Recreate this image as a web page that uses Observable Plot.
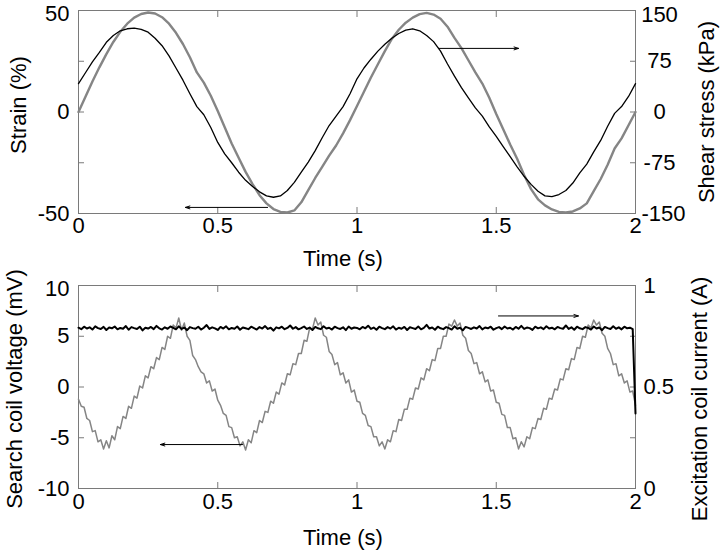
<!DOCTYPE html>
<html>
<head>
<meta charset="utf-8">
<script src="https://cdn.jsdelivr.net/npm/d3@7"></script>
<script src="https://cdn.jsdelivr.net/npm/@observablehq/plot@0.6"></script>
<style>
  body { margin: 0; background: #fff; }
  #chart svg { display: block; }
</style>
</head>
<body>
<div id="chart"></div>
<script>
// ---------- Top panel data (sampled every 0.025 s) ----------
const topTimeStep = 0.025;
const strain = [
  0, 7.5, 15, 22, 28.5, 34.5, 39.5, 43.5, 46.5, 48.3,
  49, 48.5, 46.7, 43.5, 39, 33.5, 27, 19.5, 14.5, 8,
  0.5, -7.5, -15.5, -22.5, -29.5, -35.5, -41, -45, -47.8, -49.2,
  -49.5, -48.5, -44.5, -38.5, -32.5, -27, -21.5, -16.5, -10.5, -4,
  3, 10, 17, 23.5, 30, 36, 40.5, 44, 46.5, 48.2,
  48.8, 48, 45.9, 42, 36.5, 31.5, 25.5, 19.5, 14, 7,
  -1, -8.5, -16, -23, -31, -38, -43, -46, -48, -49.2,
  -49.5, -49, -47.5, -45, -39, -33, -26, -18, -13, -6.5,
  0
];
const shearStress = [
  42, 58, 74, 88, 103, 113, 120, 123, 124, 122,
  118, 109, 98, 83, 65, 47, 27, 8, -4, -23,
  -45, -62, -75, -89, -101, -110, -118, -124, -126, -124,
  -116, -104, -89, -74, -57, -38, -20, -6, 8, 27,
  49, 65, 78, 90, 100, 109, 116, 121, 123, 120,
  113, 104, 90, 71, 53, 36, 21, 6, -6, -22,
  -36, -51, -66, -81, -95, -107, -117, -124, -125, -122,
  -116, -105, -90, -77, -59, -42, -21, -2, 8, 23,
  42
];

// ---------- Bottom panel data (sampled every 0.01 s) ----------
const bottomTimeStep = 0.01;
const searchCoilVoltage = [
  -1.2, -1.9, -2.0, -3.1, -3.3, -4.4, -4.3, -5.4, -5.2, -6.1,
  -5.3, -6.0, -4.8, -5.2, -3.9, -4.1, -2.9, -3.1, -1.9, -2.1,
  -0.9, -1.1, 0.1, -0.1, 1.1, 0.9, 2.0, 1.8, 2.9, 2.7,
  3.9, 3.7, 5.0, 4.8, 6.1, 5.8, 6.8, 5.6, 6.3, 5.0,
  4.6, 3.1, 2.7, 2.0, 1.5, 1.3, 0.4, 0.6, -0.4, -0.2,
  -1.3, -1.8, -2.6, -2.8, -3.9, -4.0, -5.0, -4.9, -5.8, -5.4,
  -6.2, -5.2, -5.5, -4.3, -4.5, -3.3, -3.5, -2.4, -2.5, -1.4,
  -1.6, -0.5, -0.7, 0.4, 0.2, 1.3, 1.2, 2.3, 2.2, 3.3,
  3.3, 4.6, 4.5, 5.8, 5.7, 6.8, 6.1, 6.4, 5.1, 4.9,
  3.5, 3.2, 2.2, 2.4, 1.2, 1.4, 0.4, 0.7, -0.5, -0.3,
  -1.4, -1.5, -2.6, -2.8, -3.8, -3.9, -4.9, -4.9, -5.8, -5.4,
  -6.1, -5.2, -5.4, -4.3, -4.4, -3.2, -3.3, -2.2, -2.2, -1.1,
  -1.2, -0.1, -0.2, 0.9, 0.7, 1.8, 1.6, 2.7, 2.6, 3.8,
  3.8, 5.0, 5.0, 6.2, 6.0, 6.6, 6.0, 6.3, 5.1, 4.8,
  3.6, 3.3, 2.3, 2.4, 1.3, 1.5, 0.5, 0.7, -0.4, -0.3,
  -1.5, -1.6, -2.7, -2.8, -4.0, -4.0, -5.1, -5.0, -6.1, -5.4,
  -5.9, -4.9, -5.1, -4.0, -4.1, -3.1, -3.2, -2.1, -2.2, -1.1,
  -1.2, -0.2, -0.3, 0.8, 0.7, 1.8, 1.7, 2.8, 2.7, 3.9,
  3.8, 5.0, 4.9, 6.1, 5.8, 6.6, 6.1, 6.4, 5.3, 5.0,
  3.8, 3.3, 2.2, 2.3, 1.1, 1.3, 0.4, 0.6, -0.5, -0.4,
  -1.8
];
const excitationCurrent = [
  0.792, 0.785, 0.797, 0.788, 0.794, 0.783, 0.799, 0.790, 0.786, 0.796,
  0.781, 0.793, 0.789, 0.798, 0.784, 0.791, 0.787, 0.800, 0.782, 0.795,
  0.790, 0.786, 0.797, 0.779, 0.792, 0.788, 0.796, 0.785, 0.801, 0.789,
  0.783, 0.794, 0.787, 0.798, 0.791, 0.784, 0.799, 0.786, 0.793, 0.780,
  0.795, 0.790, 0.787, 0.797, 0.783, 0.792, 0.805, 0.786, 0.794, 0.789,
  0.781, 0.796, 0.788, 0.799, 0.784, 0.791, 0.787, 0.798, 0.782, 0.793,
  0.789, 0.785, 0.797, 0.790, 0.783, 0.795, 0.788, 0.800, 0.786, 0.792,
  0.778, 0.794, 0.789, 0.797, 0.785, 0.791, 0.803, 0.787, 0.795, 0.784,
  0.790, 0.798, 0.786, 0.793, 0.781, 0.796, 0.789, 0.785, 0.799, 0.788,
  0.792, 0.783, 0.797, 0.790, 0.786, 0.794, 0.780, 0.798, 0.787, 0.793,
  0.791, 0.784, 0.796, 0.789, 0.802, 0.786, 0.793, 0.782, 0.797, 0.790,
  0.785, 0.795, 0.788, 0.799, 0.783, 0.792, 0.787, 0.796, 0.781, 0.794,
  0.790, 0.786, 0.798, 0.784, 0.791, 0.806, 0.788, 0.793, 0.782, 0.797,
  0.789, 0.785, 0.795, 0.790, 0.783, 0.799, 0.787, 0.792, 0.779, 0.796,
  0.791, 0.786, 0.794, 0.788, 0.800, 0.784, 0.793, 0.789, 0.797, 0.782,
  0.790, 0.795, 0.785, 0.798, 0.788, 0.792, 0.783, 0.796, 0.787, 0.801,
  0.786, 0.793, 0.790, 0.781, 0.797, 0.789, 0.794, 0.785, 0.799, 0.788,
  0.792, 0.784, 0.796, 0.790, 0.787, 0.803, 0.786, 0.794, 0.782, 0.797,
  0.789, 0.785, 0.795, 0.791, 0.783, 0.798, 0.788, 0.793, 0.780, 0.796,
  0.790, 0.786, 0.799, 0.787, 0.794, 0.784, 0.797, 0.789, 0.792, 0.785,
  0.370
];

// ---------- Axis ticks / labels ----------
const timeTicks = [0, 0.5, 1, 1.5, 2];
const timeInnerTicks = [0.5, 1, 1.5];
const strainTicks = [-50, -25, 0, 25, 50];
const strainLabels = [-50, 0, 50];
const stressTicks = [-150, -75, 0, 75, 150];
const voltageTicks = [-10, -5, 0, 5, 10];
const currentTicks = [0, 0.25, 0.5, 0.75, 1];
const currentLabels = [0, 0.5, 1];

// ---------- Annotation arrows (data units) ----------
const topArrows = [
  {x1: 0.679, x2: 0.384, strain: -47},
  {x1: 1.293, x2: 1.58, stress: 94}
];
const bottomArrows = [
  {x1: 0.589, x2: 0.294, voltage: -5.67},
  {x1: 1.508, x2: 1.795, current: 0.85}
];

// ---------- Scale mappings between paired axes ----------
const strainDomain = [-50, 50];
const stressDomain = [-150, 150];
const voltageDomain = [-10, 10];
const currentDomain = [0, 1];
const stressToStrain = d3.scaleLinear().domain(stressDomain).range(strainDomain);
const currentToVoltage = d3.scaleLinear().domain(currentDomain).range(voltageDomain);

const topData = strain.map((s, i) => ({t: i * topTimeStep, strain: s, stress: shearStress[i]}));
const bottomData = searchCoilVoltage.map((v, i) => ({t: i * bottomTimeStep, voltage: v, current: excitationCurrent[i]}));

const FONT = "'Liberation Sans', Arial, sans-serif";
const GRAY = "#858585";
const FRAME = "#7a7a7a";
const fmt = d => String(d);
const isTop = (d, domain) => d === domain[1];

const topArrowData = topArrows.map(a => ({x1: a.x1, x2: a.x2, y: a.strain !== undefined ? a.strain : stressToStrain(a.stress)}));
const bottomArrowData = bottomArrows.map(a => ({x1: a.x1, x2: a.x2, y: a.voltage !== undefined ? a.voltage : currentToVoltage(a.current)}));

function tickAxes(leftTicks, rightTicks) {
  return [
    Plot.axisY({anchor: "left", ticks: leftTicks, tickSize: -6, tickFormat: () => "", label: null, stroke: FRAME}),
    Plot.axisY({anchor: "right", ticks: rightTicks, tickSize: -6, tickFormat: () => "", label: null, stroke: FRAME}),
    Plot.axisX({anchor: "bottom", ticks: timeInnerTicks, tickSize: -6, tickFormat: () => "", label: null, stroke: FRAME}),
    Plot.axisX({anchor: "top", ticks: timeInnerTicks, tickSize: -6, tickFormat: () => "", label: null, stroke: FRAME})
  ];
}
function arrows(data) {
  return Plot.arrow(data, {x1: "x1", x2: "x2", y1: "y", y2: "y", stroke: "#000", strokeWidth: 1, headLength: 7, headAngle: 36});
}

// stress label positions expressed on the strain scale
const stressPos = stressTicks.map(d => stressToStrain(d));
const stressFmt = d => fmt(Math.round(stressToStrain.invert(d)));

const topPlot = Plot.plot({
  width: 722, height: 276,
  marginLeft: 78, marginRight: 87, marginTop: 10, marginBottom: 63,
  style: {fontFamily: FONT, fontSize: "22px", color: "#000", background: "#fff", overflow: "visible"},
  x: {domain: [0, 2]},
  y: {domain: strainDomain},
  marks: [
    Plot.frame({stroke: FRAME}),
    ...tickAxes(strainTicks, strainTicks),
    Plot.line(topData, {x: "t", y: "strain", stroke: GRAY, strokeWidth: 2.4}),
    Plot.line(topData, {x: "t", y: d => stressToStrain(d.stress), stroke: "#000", strokeWidth: 1.3}),
    arrows(topArrowData),
    Plot.axisY({anchor: "left", ticks: strainLabels.filter(d => !isTop(d, strainDomain)), tickSize: 0, tickPadding: 9, tickFormat: fmt, label: null}),
    Plot.axisY({anchor: "left", ticks: strainLabels.filter(d => isTop(d, strainDomain)), tickSize: 0, tickPadding: 9, tickFormat: fmt, label: null, dy: 3}),
    Plot.axisY({anchor: "right", ticks: stressPos.filter((d, i) => i > 0 && i < stressPos.length - 1), tickSize: 0, tickPadding: 24, textAnchor: "middle", tickFormat: stressFmt, label: null}),
    Plot.axisY({anchor: "right", ticks: stressPos.slice(-1), tickSize: 0, tickPadding: 24, textAnchor: "middle", tickFormat: stressFmt, label: null, dy: 4}),
    Plot.axisY({anchor: "right", ticks: stressPos.slice(0, 1), tickSize: 0, tickPadding: 6, textAnchor: "start", tickFormat: stressFmt, label: null}),
    Plot.axisX({anchor: "bottom", ticks: timeTicks, tickSize: 0, tickPadding: 4, tickFormat: fmt, label: null}),
    Plot.text(["Time (s)"], {text: d => d, frameAnchor: "bottom", dx: -14, dy: 45, lineAnchor: "middle", textAnchor: "middle"}),
    Plot.text(["Strain (%)"], {text: d => d, frameAnchor: "left", rotate: -90, dx: -60, dy: -7, lineAnchor: "middle", textAnchor: "middle"}),
    Plot.text(["Shear stress (kPa)"], {text: d => d, frameAnchor: "right", rotate: -90, dx: 71, dy: 0, lineAnchor: "middle", textAnchor: "middle"})
  ]
});

const bottomPlot = Plot.plot({
  width: 722, height: 276,
  marginLeft: 78, marginRight: 87, marginTop: 9, marginBottom: 64,
  style: {fontFamily: FONT, fontSize: "22px", color: "#000", background: "#fff", overflow: "visible"},
  x: {domain: [0, 2]},
  y: {domain: voltageDomain},
  marks: [
    Plot.frame({stroke: FRAME}),
    ...tickAxes(voltageTicks, currentTicks.map(d => currentToVoltage(d))),
    Plot.line(bottomData, {x: "t", y: "voltage", stroke: GRAY, strokeWidth: 1.5}),
    Plot.line(bottomData, {x: "t", y: d => currentToVoltage(d.current), stroke: "#000", strokeWidth: 2}),
    arrows(bottomArrowData),
    Plot.axisY({anchor: "left", ticks: voltageTicks.filter(d => !isTop(d, voltageDomain)), tickSize: 0, tickPadding: 9, tickFormat: fmt, label: null}),
    Plot.axisY({anchor: "left", ticks: voltageTicks.filter(d => isTop(d, voltageDomain)), tickSize: 0, tickPadding: 9, tickFormat: fmt, label: null, dy: 3}),
    Plot.axisY({anchor: "right", ticks: currentLabels.map(d => currentToVoltage(d)), tickSize: 0, tickPadding: 8,
      tickFormat: d => fmt(Math.round(currentToVoltage.invert(d) * 100) / 100), label: null}),
    Plot.axisX({anchor: "bottom", ticks: timeTicks, tickSize: 0, tickPadding: 5, tickFormat: fmt, label: null}),
    Plot.text(["Time (s)"], {text: d => d, frameAnchor: "bottom", dx: -14, dy: 49, lineAnchor: "middle", textAnchor: "middle"}),
    Plot.text(["Search coil voltage (mV)"], {text: d => d, frameAnchor: "left", rotate: -90, dx: -64, dy: 2, lineAnchor: "middle", textAnchor: "middle"}),
    Plot.text(["Excitation coil current (A)"], {text: d => d, frameAnchor: "right", rotate: -90, dx: 64, dy: 12, lineAnchor: "middle", textAnchor: "middle"})
  ]
});

const chart = document.getElementById("chart");
chart.appendChild(topPlot);
chart.appendChild(bottomPlot);
</script>
</body>
</html>
